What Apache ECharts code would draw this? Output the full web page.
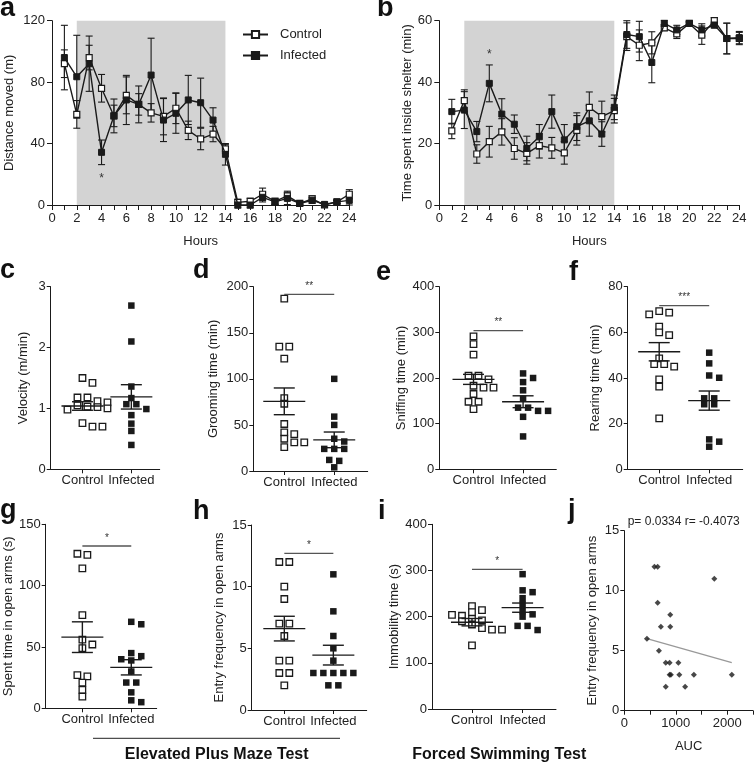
<!DOCTYPE html>
<html><head><meta charset="utf-8">
<script src="https://cdn.jsdelivr.net/npm/echarts@6/dist/echarts.min.js"></script>
<style>html,body{margin:0;padding:0;background:#fff}#chart{width:756px;height:764px}</style>
</head><body><div id="chart"></div>
<script>
const FONT = 'Liberation Sans, Arial, Helvetica, sans-serif';

// ---------- Panel a: distance moved per hour ----------
const hours = [1,2,3,4,5,6,7,8,9,10,11,12,13,14,15,16,17,18,19,20,21,22,23,24];
const aControl     = [92, 59, 96, 76, 58, 71.4, 65.5, 60, 57.7, 63, 48.6, 43, 46.2, 36.5, 1.7, 2.4, 7, 2.4, 6, 1, 4, 0, 2, 7];
const aControlSem  = [9, 9, 8, 9, 7, 12, 7, 6, 12, 10, 6, 7, 5, 3, 2, 2, 4, 2, 3, 1, 2, 1, 1, 3];
const aInfected    = [96, 83.5, 92, 34.3, 58, 68.4, 65.5, 84.6, 55.3, 59.7, 68.4, 66.6, 55.3, 33, 0, 0, 5, 2, 4.3, 1, 3, 0.4, 2, 3];
const aInfectedSem = [21, 27, 18, 8, 11, 16, 12, 24, 14, 13, 16, 16, 8, 7, 2, 2, 3, 2, 4, 1, 2, 1, 1, 3];
const aStar = [4, 19];

// ---------- Panel b: time inside shelter per hour ----------
const bControl     = [24.1, 34, 16.6, 20.6, 23.8, 18.4, 16.8, 19.3, 18.6, 17, 24.3, 31.8, 28.8, 30.7, 54.8, 52, 52.8, 57.7, 55.7, 59.1, 55.3, 60, 54.2, 54.2];
const bControlSem  = [2.5, 3.5, 3, 5, 4.3, 3.5, 3.5, 4, 3.4, 3.7, 4.8, 5, 5, 4, 4.5, 5, 3.6, 1, 1.5, 0.5, 3, 1, 5, 2];
const bInfected    = [30.4, 30.9, 23.9, 39.6, 29.6, 26.3, 18.4, 22.2, 30.4, 21.2, 25.5, 27.4, 23.1, 31.8, 55.5, 54.8, 46.4, 59.1, 57, 59.1, 57, 58.6, 54.2, 54.5];
const bInfectedSem = [4, 6, 3.3, 6, 5, 3, 4, 4, 5.4, 5, 4.5, 5, 4, 4, 4.5, 5, 6.6, 1, 1.5, 0.5, 2, 1, 5, 2];
const bStar = [4, 50];
const darkPhase = [2, 14];

// ---------- Scatter panels ----------
const groups = ['Control', 'Infected'];
const cControl  = [1.50, 1.42, 1.18, 1.18, 1.12, 1.10, 1.05, 1.03, 1.02, 1.00, 0.98, 0.76, 0.70, 0.70];
const cInfected = [2.69, 2.10, 1.36, 1.17, 1.07, 1.07, 0.99, 0.89, 0.75, 0.63, 0.40];
const cMean = [1.04, 1.19], cSem = [0.07, 0.20];

const dControl  = [187, 135, 135, 122, 79, 73, 51, 42, 40, 35, 31, 31, 26];
const dInfected = [100, 59, 50, 35, 32, 24, 24, 24, 12, 11, 4];
const dMean = [75.6, 33.8], dSem = [14.5, 8.5], dSig = [191.7, '**'];

const eControl  = [291, 274, 251, 205, 205, 197, 183, 179, 179, 165, 148, 148, 132];
const eInfected = [210, 200, 191, 173, 155, 135, 135, 128, 128, 115, 72];
const eMean = [197, 148], eSem = [11, 13], eSig = [303.6, '**'];

const fControl  = [69.3, 68.6, 67.9, 62.5, 60, 58.8, 48.6, 46.1, 46.1, 45, 39.4, 36.2, 22.3];
const fInfected = [51.1, 46.4, 41.1, 40.1, 31.1, 31.1, 28.5, 28.5, 13.1, 12.1, 9.9];
const fMean = [51.5, 30.1], fSem = [4.0, 4.2], fSig = [71.7, '***'];

const gControl  = [126, 125, 114, 76, 56, 52, 49, 27, 26, 21, 15, 9.5];
const gInfected = [70.5, 68.5, 45, 42.5, 40, 39, 30, 21, 21, 13, 6.5, 5];
const gMean = [58, 33.4], gSem = [12.5, 6.2], gSig = [132.3, '*'];

const hControl  = [12, 12, 10, 9, 7, 7, 6, 4, 4, 3, 3, 2];
const hInfected = [11, 8, 6, 5, 4, 3, 3, 3, 3, 3, 2, 2];
const hMean = [6.6, 4.45], hSem = [1.0, 0.8], hSig = [12.7, '*'];

const iControl  = [223, 214, 210, 204, 202, 195, 192, 190, 183, 175, 172, 172, 138];
const iInfected = [292, 257, 253, 240, 227, 212, 205, 200, 180, 180, 171];
const iMean = [188, 219.5], iSem = [8, 10], iSig = [302.5, '*'];

// ---------- Panel j: correlation ----------
const jAUC   = [440, 673, 711, 585, 648, 648, 893, 893, 805, 880, 1050, 880, 905, 1069, 1352, 805, 1182, 1748, 2088];
const jEntry = [6, 5, 7, 12, 12, 9, 8, 7, 4, 4, 4, 3, 3, 3, 3, 2, 2, 11, 3];
const jFitX = [440, 2088], jFitY = [6.0, 4.0];
const jStats = 'p= 0.0334 r= -0.4073';

// ================= helpers =================
const ink = '#1a1a1a';
function errRender(params, api) {
  const x = api.value(0), m = api.value(1), s = api.value(2);
  const t = api.coord([x, m + s]), b = api.coord([x, m - s]);
  const w = 3.5, st = {stroke: ink, lineWidth: 1.1};
  return {type: 'group', children: [
    {type: 'line', shape: {x1: t[0], y1: t[1], x2: b[0], y2: b[1]}, style: st},
    {type: 'line', shape: {x1: t[0] - w, y1: t[1], x2: t[0] + w, y2: t[1]}, style: st},
    {type: 'line', shape: {x1: b[0] - w, y1: b[1], x2: b[0] + w, y2: b[1]}, style: st}
  ]};
}
function shadeRender(params, api) {
  const cs = params.coordSys;
  const x0 = api.coord([api.value(0), 0])[0], x1 = api.coord([api.value(1), 0])[0];
  return {type: 'rect', shape: {x: x0, y: cs.y, width: x1 - x0, height: cs.height}, style: {fill: '#d3d3d3'}};
}
function starRender(params, api) {
  const p = api.coord([api.value(0), api.value(1)]);
  return {type: 'text', x: p[0], y: p[1] + 3, style: {text: '*', fill: '#333', font: '12px ' + FONT, align: 'center', verticalAlign: 'middle'}};
}
function meanRender(params, api) {
  const x = api.value(0), m = api.value(1), s = api.value(2);
  const c = api.coord([x, m]), t = api.coord([x, m + s]), b = api.coord([x, m - s]);
  const st = {stroke: ink, lineWidth: 1.4};
  return {type: 'group', children: [
    {type: 'line', shape: {x1: c[0] - 21, y1: c[1], x2: c[0] + 21, y2: c[1]}, style: st},
    {type: 'line', shape: {x1: t[0], y1: t[1], x2: b[0], y2: b[1]}, style: st},
    {type: 'line', shape: {x1: t[0] - 10.5, y1: t[1], x2: t[0] + 10.5, y2: t[1]}, style: st},
    {type: 'line', shape: {x1: b[0] - 10.5, y1: b[1], x2: b[0] + 10.5, y2: b[1]}, style: st}
  ]};
}
function sigRender(label) {
  return function (params, api) {
    const y = api.value(2);
    const p1 = api.coord([api.value(0), y]), p2 = api.coord([api.value(1), y]);
    return {type: 'group', children: [
      {type: 'line', shape: {x1: p1[0], y1: p1[1], x2: p2[0], y2: p2[1]}, style: {stroke: '#555', lineWidth: 1.3}},
      {type: 'text', x: (p1[0] + p2[0]) / 2, y: p1[1] - 8, style: {text: label, fill: '#333', font: '10px ' + FONT, align: 'center', verticalAlign: 'middle'}}
    ]};
  };
}
// deterministic beeswarm placement (pixel space) -> x in axis units
function swarm(values, center, pxY, pxX) {
  const vT = 5.5, hT = 8, step = 10;
  const sorted = values.slice().sort((a, b) => b - a);
  const clusters = [];
  for (const v of sorted) {
    const last = clusters[clusters.length - 1];
    if (last && Math.abs(last[0] - v) * pxY < 1.5) last.push(v); else clusters.push([v]);
  }
  const placed = [], out = [];
  const bases = [0, step / 2, -step / 2, step, -step, 1.5 * step, -1.5 * step, 2 * step, -2 * step];
  for (const cl of clusters) {
    const n = cl.length;
    let chosen = null;
    for (const b of bases) {
      const offs = cl.map((v, i) => b + (i - (n - 1) / 2) * step);
      const ok = cl.every((v, i) => placed.every(p => !(Math.abs(p.y - v * pxY) < vT && Math.abs(p.x - offs[i]) < hT)));
      if (ok) { chosen = offs; break; }
    }
    if (!chosen) chosen = cl.map((v, i) => (i - (n - 1) / 2) * step);
    cl.forEach((v, i) => { placed.push({x: chosen[i], y: v * pxY}); out.push([center + chosen[i] / pxX, v]); });
  }
  return out;
}

// ================= layout =================
const grids = [], xAxes = [], yAxes = [], series = [];
const tickLbl = {color: '#222', fontSize: 13, fontFamily: FONT};
const nameStyle = {color: '#222', fontSize: 13, fontFamily: FONT};
const axLine = {show: true, lineStyle: {color: ink, width: 1}};

function addTimePanel(grid, yMax, yInt, yName, yGap, ctrl, ctrlSem, inf, infSem, star) {
  const gi = grids.length;
  grids.push({left: grid[0], top: grid[1], width: grid[2], height: grid[3]});
  xAxes.push({gridIndex: gi, type: 'value', min: 0, max: 24, interval: 1,
    axisLine: axLine, axisTick: {length: 5, lineStyle: {color: ink}}, splitLine: {show: false},
    axisLabel: Object.assign({margin: 7, formatter: v => (v % 2 === 0 ? String(v) : '')}, tickLbl),
    name: 'Hours', nameLocation: 'middle', nameGap: 30, nameTextStyle: nameStyle});
  yAxes.push({gridIndex: gi, type: 'value', min: 0, max: yMax, interval: yInt,
    axisLine: axLine, axisTick: {show: true, length: 5, lineStyle: {color: ink}}, splitLine: {show: false},
    axisLabel: Object.assign({margin: 7}, tickLbl),
    name: yName, nameLocation: 'middle', nameGap: yGap, nameTextStyle: nameStyle});
  series.push({type: 'custom', xAxisIndex: gi, yAxisIndex: gi, z: 1, silent: true,
    renderItem: shadeRender, encode: {x: [0, 1]}, data: [darkPhase]});
  series.push({type: 'custom', xAxisIndex: gi, yAxisIndex: gi, z: 3, renderItem: errRender, encode: {x: 0, y: 1},
    data: hours.map((h, k) => [h, ctrl[k], ctrlSem[k]])});
  series.push({type: 'custom', xAxisIndex: gi, yAxisIndex: gi, z: 3, renderItem: errRender, encode: {x: 0, y: 1},
    data: hours.map((h, k) => [h, inf[k], infSem[k]])});
  series.push({name: 'Control', type: 'line', xAxisIndex: gi, yAxisIndex: gi, z: 4,
    data: hours.map((h, k) => [h, ctrl[k]]), symbol: 'rect', symbolSize: 6,
    itemStyle: {color: '#fff', borderColor: ink, borderWidth: 1.2}, lineStyle: {color: ink, width: 1.4}});
  series.push({name: 'Infected', type: 'line', xAxisIndex: gi, yAxisIndex: gi, z: 5,
    data: hours.map((h, k) => [h, inf[k]]), symbol: 'rect', symbolSize: 6,
    itemStyle: {color: ink, borderColor: ink, borderWidth: 1}, lineStyle: {color: ink, width: 1.4}});
  series.push({type: 'custom', xAxisIndex: gi, yAxisIndex: gi, z: 6, renderItem: starRender, encode: {x: 0, y: 1}, data: [star]});
}

addTimePanel([52, 20.7, 297.3, 184.3], 120, 40, 'Distance moved (m)', 36, aControl, aControlSem, aInfected, aInfectedSem, aStar);
addTimePanel([439.3, 20.7, 300, 184.3], 60, 20, 'Time spent inside shelter (min)', 25, bControl, bControlSem, bInfected, bInfectedSem, bStar);

const scatterPanels = [
  {grid: [50.7, 286.7, 109, 182.6], xr: [0.35, 2.58], yMax: 3, yInt: 1, name: 'Velocity (m/min)', gap: 21, ctrl: cControl, inf: cInfected, mean: cMean, sem: cSem, sig: null},
  {grid: [253.3, 286.7, 114.4, 184.3], xr: [0.38, 2.67], yMax: 200, yInt: 50, name: 'Grooming time (min)', gap: 33, ctrl: dControl, inf: dInfected, mean: dMean, sem: dSem, sig: dSig},
  {grid: [439.3, 286.7, 117, 182.6], xr: [0.31, 2.67], yMax: 400, yInt: 100, name: 'Sniffing time (min)', gap: 31, ctrl: eControl, inf: eInfected, mean: eMean, sem: eSem, sig: eSig},
  {grid: [627.7, 286.7, 115, 182.6], xr: [0.37, 2.67], yMax: 80, yInt: 20, name: 'Rearing time (min)', gap: 26, ctrl: fControl, inf: fInfected, mean: fMean, sem: fSem, sig: fSig},
  {grid: [45.7, 524.3, 111, 184], xr: [0.25, 2.52], yMax: 150, yInt: 50, name: 'Spent time in open arms (s)', gap: 29, ctrl: gControl, inf: gInfected, mean: gMean, sem: gSem, sig: gSig},
  {grid: [251.7, 525, 115, 185], xr: [0.335, 2.68], yMax: 15, yInt: 5, name: 'Entry frequency in open arms', gap: 26, ctrl: hControl, inf: hInfected, mean: hMean, sem: hSem, sig: hSig},
  {grid: [432, 524.3, 124, 184.7], xr: [0.21, 2.66], yMax: 400, yInt: 100, name: 'Immobility time (s)', gap: 23, ctrl: iControl, inf: iInfected, mean: iMean, sem: iSem, sig: iSig}
];

scatterPanels.forEach(p => {
  const gi = grids.length;
  grids.push({left: p.grid[0], top: p.grid[1], width: p.grid[2], height: p.grid[3]});
  xAxes.push({gridIndex: gi, type: 'value', min: p.xr[0], max: p.xr[1],
    axisLine: axLine, splitLine: {show: false},
    axisTick: {show: true, length: 4, customValues: [1, 2], lineStyle: {color: ink}},
    axisLabel: Object.assign({margin: 5, customValues: [1, 2], formatter: v => groups[Math.round(v) - 1]}, tickLbl)});
  yAxes.push({gridIndex: gi, type: 'value', min: 0, max: p.yMax, interval: p.yInt,
    axisLine: axLine, axisTick: {show: true, length: 4, lineStyle: {color: ink}}, splitLine: {show: false},
    axisLabel: Object.assign({margin: 5}, tickLbl),
    name: p.name, nameLocation: 'middle', nameGap: p.gap, nameTextStyle: nameStyle});
  const pxY = p.grid[3] / p.yMax, pxX = p.grid[2] / (p.xr[1] - p.xr[0]);
  series.push({type: 'scatter', xAxisIndex: gi, yAxisIndex: gi, z: 3, symbol: 'rect', symbolSize: 6.5,
    itemStyle: {color: '#fff', borderColor: ink, borderWidth: 1.3, opacity: 1},
    data: swarm(p.ctrl, 1, pxY, pxX)});
  series.push({type: 'scatter', xAxisIndex: gi, yAxisIndex: gi, z: 3, symbol: 'rect', symbolSize: 6.5,
    itemStyle: {color: ink, opacity: 1},
    data: swarm(p.inf, 2, pxY, pxX)});
  series.push({type: 'custom', xAxisIndex: gi, yAxisIndex: gi, z: 4, renderItem: meanRender, encode: {x: 0, y: 1},
    data: [[1, p.mean[0], p.sem[0]], [2, p.mean[1], p.sem[1]]]});
  if (p.sig) {
    series.push({type: 'custom', xAxisIndex: gi, yAxisIndex: gi, z: 4, renderItem: sigRender(p.sig[1]), encode: {x: [0, 1], y: 2},
      data: [[1, 2, p.sig[0]]]});
  }
});

// panel j
(function () {
  const gi = grids.length;
  grids.push({left: 624.3, top: 530.7, width: 131.7, height: 180});
  xAxes.push({gridIndex: gi, type: 'value', min: 0, max: 2500, interval: 500,
    axisLine: axLine, axisTick: {length: 4, lineStyle: {color: ink}}, splitLine: {show: false},
    axisLabel: Object.assign({margin: 6, formatter: v => (v % 1000 === 0 ? String(v) : ''), showMaxLabel: true}, tickLbl),
    name: 'AUC', nameLocation: 'middle', nameGap: 29, nameTextStyle: nameStyle});
  yAxes.push({gridIndex: gi, type: 'value', min: 0, max: 15, interval: 5,
    axisLine: axLine, axisTick: {show: true, length: 4, lineStyle: {color: ink}}, splitLine: {show: false},
    axisLabel: Object.assign({margin: 5}, tickLbl),
    name: 'Entry frequency in open arms', nameLocation: 'middle', nameGap: 25, nameTextStyle: nameStyle});
  series.push({type: 'line', xAxisIndex: gi, yAxisIndex: gi, z: 2, symbol: 'none',
    lineStyle: {color: '#999', width: 1.3}, data: jFitX.map((x, k) => [x, jFitY[k]])});
  series.push({type: 'scatter', xAxisIndex: gi, yAxisIndex: gi, z: 3, symbol: 'diamond', symbolSize: 6,
    itemStyle: {color: ink}, data: jAUC.map((x, k) => [x, jEntry[k]])});
})();

// ================= text decorations =================
const LF = 27;
const letterFont = 'bold ' + LF + 'px ' + FONT;
const letters = [['a', 0, 18], ['b', 377, 18], ['c', 0, 280], ['d', 193, 280], ['e', 376, 282], ['f', 569, 282],
  ['g', 0, 520], ['h', 193, 521], ['i', 378, 521], ['j', 568, 520]];
const graphics = letters.map(l => ({type: 'text', x: l[1], y: l[2] - 0.35 * LF,
  style: {text: l[0], font: letterFont, fill: '#111', align: 'left', verticalAlign: 'middle'}}));
graphics.push({type: 'text', x: 627.7, y: 522, style: {text: jStats, font: '12px ' + FONT, fill: '#222', align: 'left', verticalAlign: 'middle'}});
graphics.push({type: 'line', shape: {x1: 93, y1: 738.3, x2: 340, y2: 738.3}, style: {stroke: '#222', lineWidth: 1}});
graphics.push({type: 'text', x: 216.7, y: 755, style: {text: 'Elevated Plus Maze Test', font: 'bold 16px ' + FONT, fill: '#111', align: 'center', verticalAlign: 'middle'}});
graphics.push({type: 'text', x: 499.3, y: 755, style: {text: 'Forced Swimming Test', font: 'bold 16px ' + FONT, fill: '#111', align: 'center', verticalAlign: 'middle'}});

const chart = echarts.init(document.getElementById('chart'), null, {renderer: 'canvas'});
chart.setOption({
  animation: false,
  backgroundColor: '#fff',
  textStyle: {fontFamily: FONT},
  legend: {data: ['Control', 'Infected'], orient: 'vertical', left: 242, top: 28, padding: 0,
    itemWidth: 25, itemHeight: 9, itemGap: 8,
    textStyle: {fontSize: 13, color: '#222', fontFamily: FONT, padding: [0, 0, 0, 7]}},
  grid: grids, xAxis: xAxes, yAxis: yAxes, series: series, graphic: graphics
});
</script></body></html>
